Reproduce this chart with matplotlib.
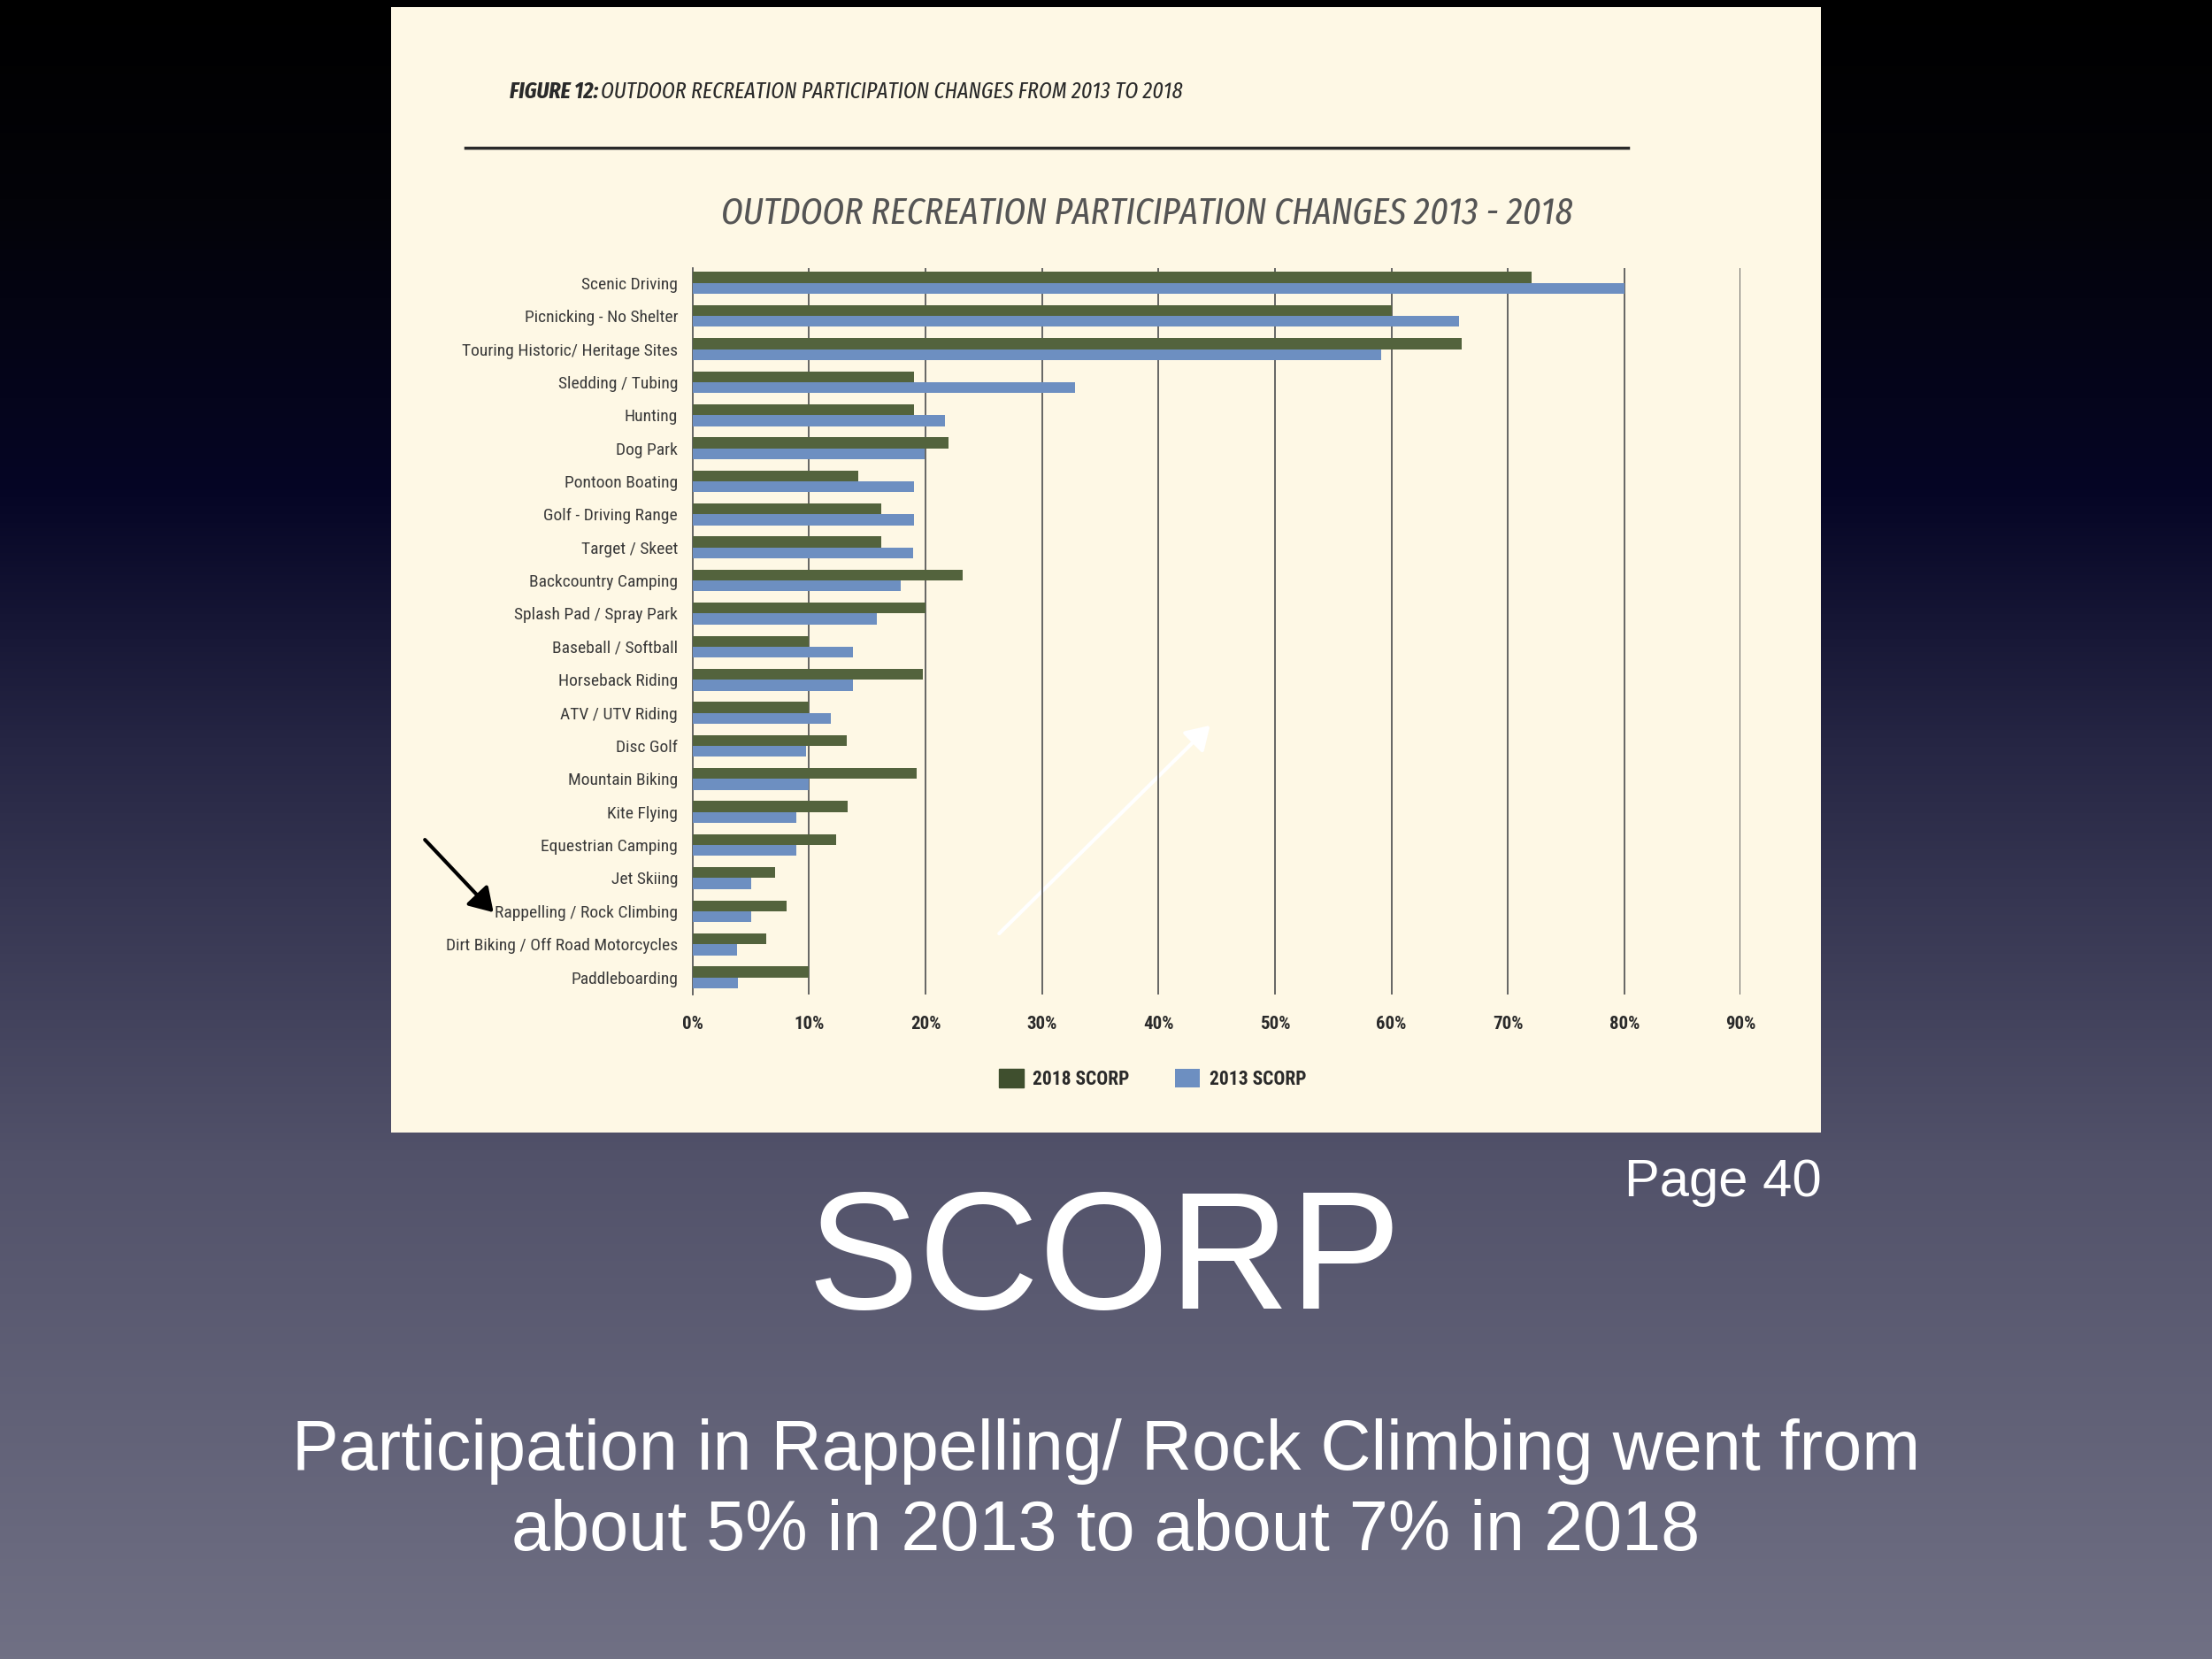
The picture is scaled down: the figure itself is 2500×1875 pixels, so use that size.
import matplotlib
matplotlib.use("Agg")
import matplotlib.pyplot as plt
import numpy as np
from matplotlib.patches import Rectangle, FancyArrowPatch
from matplotlib import font_manager

categories = ["Scenic Driving", "Picnicking - No Shelter", "Touring Historic/ Heritage Sites",
              "Sledding / Tubing", "Hunting", "Dog Park", "Pontoon Boating", "Golf - Driving Range",
              "Target / Skeet", "Backcountry Camping", "Splash Pad / Spray Park", "Baseball / Softball",
              "Horseback Riding", "ATV / UTV Riding", "Disc Golf", "Mountain Biking", "Kite Flying",
              "Equestrian Camping", "Jet Skiing", "Rappelling / Rock Climbing",
              "Dirt Biking / Off Road Motorcycles", "Paddleboarding"]
scorp_2018 = [72, 60, 66, 19, 19, 22, 14.2, 16.2, 16.2, 23.2, 20, 10, 19.8, 10, 13.2, 19.2, 13.3,
              12.3, 7.1, 8.1, 6.3, 10]
scorp_2013 = [80, 65.8, 59.1, 32.8, 21.7, 19.9, 19, 19, 18.9, 17.9, 15.8, 13.8, 13.8, 11.9, 9.7,
              10, 8.9, 8.9, 5, 5, 3.8, 3.9]
xticks = [0, 10, 20, 30, 40, 50, 60, 70, 80, 90]
xticklabels = [f"{v}%" for v in xticks]
series_names = ["2018 SCORP", "2013 SCORP"]

avail = {f.name for f in font_manager.fontManager.ttflist}


def pick(*names):
    for n in names:
        if n in avail:
            return n
    return "DejaVu Sans"


cond = pick("Roboto Condensed", "Archivo Narrow", "PT Sans Narrow", "Barlow Condensed")
xcond = pick("Fira Sans Extra Condensed", "Saira ExtraCondensed", "Barlow Condensed", "Roboto Condensed")
plain = pick("Liberation Sans", "Arimo")

GREEN = "#53633d"
BLUE = "#6d8fc1"
CREAM = "#fef8e5"
TXT = "#3a3a3a"

fig = plt.figure(figsize=(25, 18.75), dpi=100)

# slide background gradient
bg = fig.add_axes([0, 0, 1, 1], zorder=0)
bg.set_axis_off()
stops_pos = [0.0, 0.12, 0.30, 0.45, 0.70, 1.0]
stops_col = np.array([[0, 0, 0], [3, 3, 8], [6, 6, 38], [38, 38, 68], [82, 82, 106], [112, 112, 132]]) / 255.0
tt = np.linspace(0, 1, 600)
img = np.stack([np.interp(tt, stops_pos, stops_col[:, k]) for k in range(3)], axis=-1)
img = img[:, None, :].repeat(2, axis=1)
bg.imshow(img, aspect="auto", extent=[0, 1, 0, 1], origin="upper")
bg.set_xlim(0, 1)
bg.set_ylim(0, 1)

# cream panel
bg.add_patch(Rectangle((277 / 1568, 1 - 803 / 1176), (1291 - 277) / 1568, (803 - 5) / 1176,
                       facecolor=CREAM, edgecolor="none", zorder=1))

# figure caption
fig.canvas.draw()
r = fig.canvas.get_renderer()
t1 = bg.text(361 / 1568, 1 - 65 / 1176, "FIGURE 12:", fontfamily=xcond, fontstyle="italic",
             fontweight="bold", fontsize=18.7, color="#2a2a2a", va="center", ha="left", zorder=3)
bb = t1.get_window_extent(renderer=r)
x2 = bb.x1 / fig.bbox.width + 3 / 2500
bg.text(x2, 1 - 65 / 1176, "OUTDOOR RECREATION PARTICIPATION CHANGES FROM 2013 TO 2018",
        fontfamily=xcond, fontstyle="italic", fontsize=18.7, color="#2a2a2a", va="center",
        ha="left", zorder=3)
bg.plot([330 / 1568, 1154 / 1568], [1 - 105 / 1176] * 2, color="#2a2a2a", lw=2.5, zorder=3)
bg.text(813 / 1568, 1 - 151 / 1176, "OUTDOOR RECREATION PARTICIPATION CHANGES 2013 - 2018",
        fontfamily=xcond, fontstyle="italic", fontsize=31, color="#555555", va="center",
        ha="center", zorder=3)

# chart
ax = fig.add_axes([491 / 1568, 1 - 705 / 1176, (1234 - 491) / 1568, (705 - 190) / 1176], zorder=2)
ax.set_facecolor("none")
y = np.arange(len(categories))
h = 0.33
ax.barh(y - h / 2, scorp_2018, height=h, color=GREEN, label=series_names[0], zorder=3)
ax.barh(y + h / 2, scorp_2013, height=h, color=BLUE, label=series_names[1], zorder=3)
ax.set_xlim(0, 90)
ax.set_ylim(len(categories) - 0.48, -0.45)
for xv in xticks[1:]:
    ax.axvline(xv, color="#5a5a5a", lw=1.3, zorder=1)
for s in ["top", "right", "bottom"]:
    ax.spines[s].set_visible(False)
ax.spines["left"].set_color("#5a5a5a")
ax.spines["left"].set_linewidth(1.3)
ax.set_yticks(y)
ax.set_yticklabels(categories, fontfamily=cond, fontsize=14, color=TXT)
ax.set_xticks(xticks)
ax.set_xticklabels(xticklabels, fontfamily=cond, fontsize=15, fontweight="bold", color="#2a2a2a")
ax.tick_params(axis="both", length=0)
ax.tick_params(axis="y", pad=12)
ax.tick_params(axis="x", pad=17)

leg = fig.legend(handles=ax.get_legend_handles_labels()[0], labels=series_names,
                 loc="center", bbox_to_anchor=(817 / 1568, 1 - 765 / 1176), ncol=2,
                 frameon=False, prop={"family": cond, "weight": "bold", "size": 15.5},
                 handlelength=1.3, handleheight=1.1, columnspacing=2.4, handletextpad=0.5)
for txt in leg.get_texts():
    txt.set_color("#2a2a2a")
leg.legend_handles[0].set_color("#3f4f2e")

# slide texts
bg.text(783 / 1568, 1 - 897 / 1176, "SCORP", fontfamily=plain, fontsize=136, color="white",
        ha="center", va="center", zorder=3)
bg.text(1291 / 1568, 1 - 838 / 1176, "Page 40", fontfamily=plain, fontsize=43, color="white",
        ha="right", va="center", zorder=3)
bg.text(784 / 1568, 1 - 1029 / 1176, "Participation in Rappelling/ Rock Climbing went from",
        fontfamily=plain, fontsize=57, color="white", ha="center", va="center", zorder=3)
bg.text(784 / 1568, 1 - 1086 / 1176, "about 5% in 2013 to about 7% in 2018",
        fontfamily=plain, fontsize=57, color="white", ha="center", va="center", zorder=3)

# arrows
bg.add_patch(FancyArrowPatch((300 / 1568, 1 - 594 / 1176), (351 / 1568, 1 - 648 / 1176),
                             arrowstyle="-|>,head_length=8,head_width=5", color="black",
                             lw=3, zorder=4, mutation_scale=2))
bg.add_patch(FancyArrowPatch((707 / 1568, 1 - 663 / 1176), (859 / 1568, 1 - 513 / 1176),
                             arrowstyle="-|>,head_length=8,head_width=5", color="white",
                             lw=3, zorder=4, mutation_scale=2))

fig.savefig("out.png", dpi=100)
